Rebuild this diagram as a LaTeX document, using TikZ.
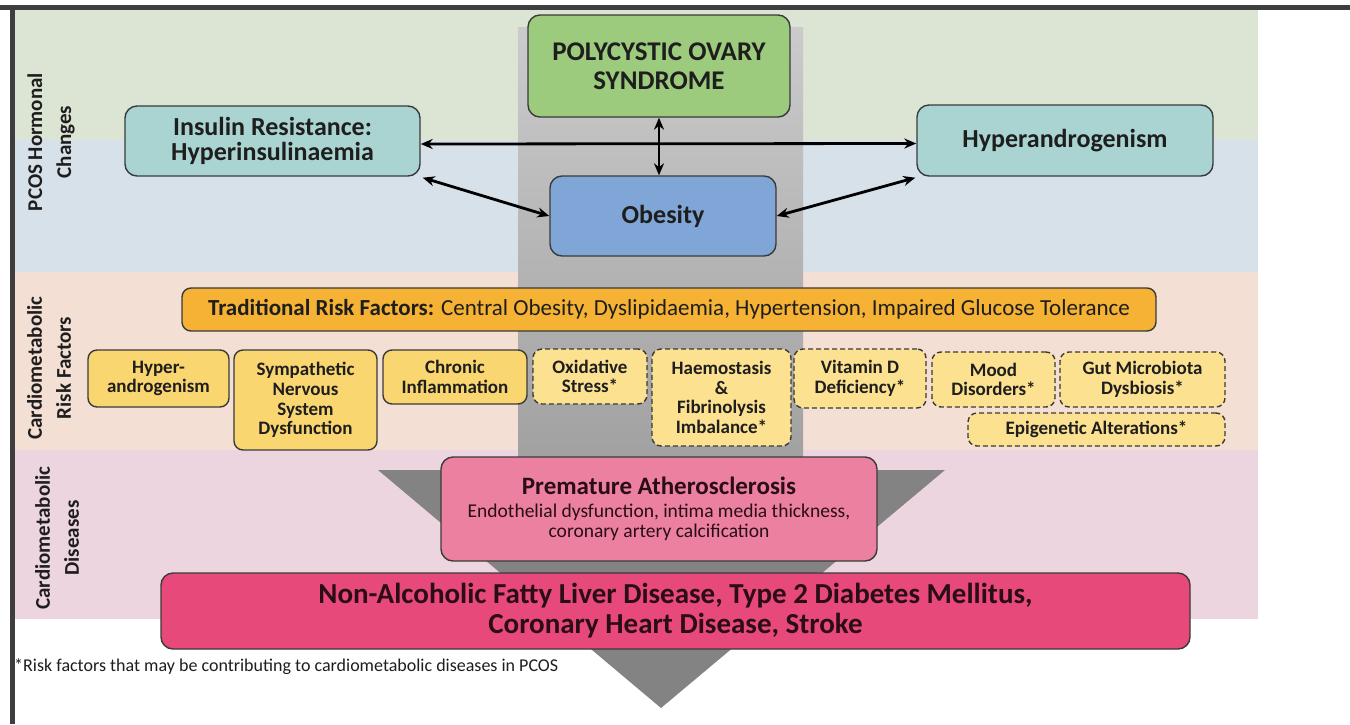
\documentclass[tikz,border=0pt]{standalone}
\usepackage{fontspec}
\setmainfont{Carlito}
\usetikzlibrary{arrows.meta}
\definecolor{bandgreen}{HTML}{DCE5D3}
\definecolor{bandblue}{HTML}{D7E1EA}
\definecolor{bandpeach}{HTML}{F3DFD4}
\definecolor{bandpink}{HTML}{EDD5E0}
\definecolor{frame}{HTML}{3E3E3E}
\definecolor{bord}{HTML}{3A3A3A}
\definecolor{txt}{HTML}{1E1E1E}
\definecolor{pcosgreen}{HTML}{9DCB7D}
\definecolor{teal}{HTML}{A9D4D2}
\definecolor{obeblue}{HTML}{7FA6D6}
\definecolor{orange}{HTML}{F5B234}
\definecolor{yel}{HTML}{FAD670}
\definecolor{yellight}{HTML}{FCE190}
\definecolor{prempink}{HTML}{EC80A1}
\definecolor{nafpink}{HTML}{E8497B}
\definecolor{shafttop}{HTML}{CBCBCB}
\definecolor{shaftbot}{HTML}{A0A0A0}
\definecolor{headgray}{HTML}{838383}
\definecolor{darktxt}{HTML}{2A0D16}
\newcommand\myfs[2]{\fontsize{#1}{#2}\selectfont}
\begin{document}
\begin{tikzpicture}[x=1pt,y=-1pt,
  bx/.style={draw=bord, line width=1.4pt, rounded corners=12pt, align=center, inner sep=2pt, text=txt},
  sbx/.style={bx, rounded corners=9pt, fill=yel, font=\myfs{19}{19.7}\bfseries},
  dbx/.style={sbx, fill=yellight, dash pattern=on 5pt off 3pt},
  dar/.style={{Stealth[length=12pt,width=10pt]}-{Stealth[length=12pt,width=10pt]}, line width=2.8pt, black},
  side/.style={rotate=90, align=center, text=txt, font=\myfs{21}{29}\bfseries}
]
\useasboundingbox (0,0) rectangle (1350,724);
\fill[white] (0,0) rectangle (1350,724);
% bands
\fill[bandgreen] (14,10) rectangle (1258,140);
\fill[bandblue] (14,140) rectangle (1258,272);
\fill[bandpeach] (14,272) rectangle (1258,450);
\fill[bandpink] (14,450) rectangle (1258,619);
% frame
\draw[frame, line width=5pt] (0,7.5) -- (1350,7.5);
\draw[frame, line width=5pt] (12,5) -- (12,724);
% big arrow
\shade[top color=shafttop, bottom color=shaftbot] (518,27) rectangle (803,470);
\fill[headgray] (378,470) -- (945,470) -- (661,708) -- cycle;
% side labels
\node[side] (lab1) at (51,142) {PCOS Hormonal\\Changes};
\node[side] (lab2) at (49,368) {Cardiometabolic\\Risk Factors};
\node[side] (lab3) at (57,538) {Cardiometabolic\\Diseases};
% top nodes
\node[bx, fill=pcosgreen, minimum width=262pt, minimum height=102pt, font=\myfs{27}{29}\bfseries] (pcos) at (659,66) {POLYCYSTIC OVARY\\SYNDROME};
\node[bx, fill=teal, minimum width=295pt, minimum height=70pt, font=\myfs{26}{25.5}\bfseries] (ins) at (272.5,141) {Insulin Resistance:\\Hyperinsulinaemia};
\node[bx, fill=teal, minimum width=296pt, minimum height=71pt, font=\myfs{26}{26}\bfseries] (hyp) at (1065,140.5) {Hyperandrogenism};
\node[bx, fill=obeblue, minimum width=226pt, minimum height=80pt, font=\myfs{26}{26}\bfseries] (obe) at (663,216) {Obesity};
% arrows
\draw[dar] ([yshift=-3pt]ins.east) -- ([yshift=-3pt]hyp.west);
\draw[dar] (pcos.south) -- (pcos.south |- obe.north);
\draw[dar] ([xshift=2pt,yshift=-1pt]ins.south east) -- (obe.west);
\draw[dar] (obe.east) -- ([xshift=-1pt,yshift=-1pt]hyp.south west);
% risk factors
\node[bx, rounded corners=9pt, fill=orange, minimum width=974pt, minimum height=43pt, font=\myfs{23}{26}] (trad) at (669,309.5) {\textbf{Traditional Risk Factors:} Central Obesity, Dyslipidaemia, Hypertension, Impaired Glucose Tolerance};
\node[sbx, minimum width=141pt, minimum height=57pt] (r1) at (158.5,378.5) {Hyper-\\androgenism};
\node[sbx, minimum width=143pt, minimum height=100pt] (r2) at (305.5,400) {Sympathetic\\Nervous\\System\\Dysfunction};
\node[sbx, minimum width=144pt, minimum height=54pt] (r3) at (455,377) {Chronic\\Inflammation};
\node[dbx, minimum width=114pt, minimum height=55pt] (r4) at (590,376.5) {Oxidative\\Stress*};
\node[dbx, minimum width=139pt, minimum height=97pt] (r5) at (721.5,397.5) {Haemostasis\\\&\\Fibrinolysis\\Imbalance*};
\node[dbx, minimum width=132pt, minimum height=59pt] (r6) at (860,378.5) {Vitamin D\\Deficiency*};
\node[dbx, minimum width=123pt, minimum height=55pt] (r7) at (993.5,379.5) {Mood\\Disorders*};
\node[dbx, minimum width=165pt, minimum height=55pt] (r8) at (1142.5,379.5) {Gut Microbiota\\Dysbiosis*};
\node[dbx, minimum width=257pt, minimum height=33pt] (r9) at (1096.5,429.5) {Epigenetic Alterations*};
% diseases
\node[bx, fill=prempink, minimum width=436pt, minimum height=104pt, text=darktxt, font=\myfs{19.5}{20}] (prem) at (659,509) {{\myfs{25}{26}\bfseries Premature Atherosclerosis}\\[3pt]Endothelial dysfunction, intima media thickness,\\coronary artery calcification};
\node[bx, fill=nafpink, minimum width=1029pt, minimum height=76pt, text=darktxt, font=\myfs{29}{30}\bfseries] (naf) at (675.5,611) {Non-Alcoholic Fatty Liver Disease, Type 2 Diabetes Mellitus,\\Coronary Heart Disease, Stroke};
% footnote
\node[anchor=west, inner sep=0pt, text=txt, font=\myfs{18}{20}] (foot) at (14,667) {*Risk factors that may be contributing to cardiometabolic diseases in PCOS};
\end{tikzpicture}
\end{document}
